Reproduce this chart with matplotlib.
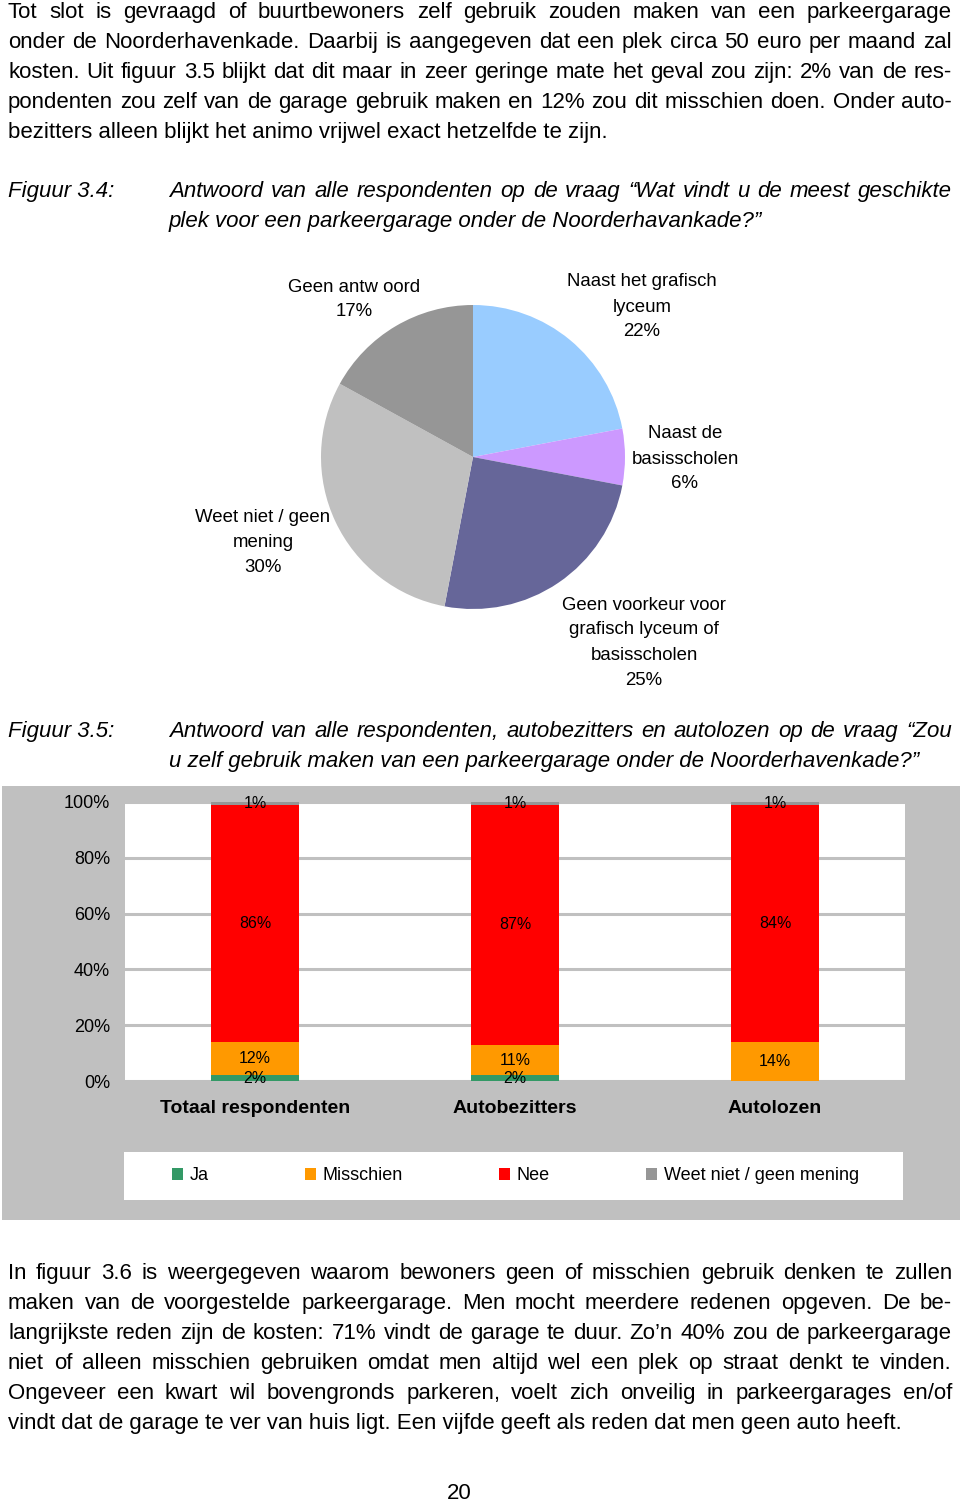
import matplotlib
matplotlib.use("Agg")
import matplotlib.pyplot as plt
from matplotlib.patches import Rectangle, Patch

plt.rcParams['font.family'] = ['Liberation Sans', 'DejaVu Sans']

# --- text of the page ---
para1 = [
    "Tot slot is gevraagd of buurtbewoners zelf gebruik zouden maken van een parkeergarage",
    "onder de Noorderhavenkade. Daarbij is aangegeven dat een plek circa 50 euro per maand zal",
    "kosten. Uit figuur 3.5 blijkt dat dit maar in zeer geringe mate het geval zou zijn: 2% van de res-",
    "pondenten zou zelf van de garage gebruik maken en 12% zou dit misschien doen. Onder auto-",
    "bezitters alleen blijkt het animo vrijwel exact hetzelfde te zijn.",
]
caption34 = [
    "Antwoord van alle respondenten op de vraag \u201cWat vindt u de meest geschikte",
    "plek voor een parkeergarage onder de Noorderhavankade?\u201d",
]
caption35 = [
    "Antwoord van alle respondenten, autobezitters en autolozen op de vraag \u201cZou",
    "u zelf gebruik maken van een parkeergarage onder de Noorderhavenkade?\u201d",
]
para2 = [
    "In figuur 3.6 is weergegeven waarom bewoners geen of misschien gebruik denken te zullen",
    "maken van de voorgestelde parkeergarage. Men mocht meerdere redenen opgeven. De be-",
    "langrijkste reden zijn de kosten: 71% vindt de garage te duur. Zo\u2019n 40% zou de parkeergarage",
    "niet of alleen misschien gebruiken omdat men altijd wel een plek op straat denkt te vinden.",
    "Ongeveer een kwart wil bovengronds parkeren, voelt zich onveilig in parkeergarages en/of",
    "vindt dat de garage te ver van huis ligt. Een vijfde geeft als reden dat men geen auto heeft.",
]

# --- figure 3.4 (pie) ---
pie_labels = ["Naast het grafisch\nlyceum", "Naast de\nbasisscholen",
              "Geen voorkeur voor\ngrafisch lyceum of\nbasisscholen",
              "Weet niet / geen\nmening", "Geen antw oord"]
pie_values = [22, 6, 25, 30, 17]
pie_colors = ["#99CCFF", "#CC99FF", "#666699", "#C0C0C0", "#969696"]

# --- figure 3.5 (stacked bars) ---
groups = ["Totaal respondenten", "Autobezitters", "Autolozen"]
answers = ["Ja", "Misschien", "Nee", "Weet niet / geen mening"]
ja = [2, 2, 0]
misschien = [12, 11, 14]
nee = [86, 87, 84]
weet_niet = [1, 1, 1]
bar_colors = ["#339966", "#FF9900", "#FF0000", "#969696"]

W, H = 960, 1502
fig = plt.figure(figsize=(W / 100, H / 100), dpi=100)
renderer = fig.canvas.get_renderer()


def fx(px):
    return px / W


def fy(py):
    return 1 - py / H


def write_par(lines, x0, x1, base0, step=30, last_left=True, **kw):
    for i, line in enumerate(lines):
        base = base0 + i * step
        if last_left and i == len(lines) - 1:
            fig.text(fx(x0), fy(base), line, va='baseline', ha='left', **kw)
            continue
        words = line.split()
        items = [fig.text(0, fy(base), w, va='baseline', ha='left', **kw) for w in words]
        widths = [t.get_window_extent(renderer).width for t in items]
        gap = (x1 - x0 - sum(widths)) / max(len(words) - 1, 1)
        x = x0
        for t, w in zip(items, widths):
            t.set_x(fx(x))
            x += w + gap


body = dict(fontsize=16, color='black')
ital = dict(fontsize=16, color='black', style='italic')

write_par(para1, 8, 952, 18, **body)
fig.text(fx(8), fy(197), "Figuur 3.4:", va='baseline', ha='left', **ital)
write_par(caption34, 169, 952, 197, **ital)
fig.text(fx(8), fy(737), "Figuur 3.5:", va='baseline', ha='left', **ital)
write_par(caption35, 169, 952, 737, **ital)
write_par(para2, 8, 952, 1279, **body)
fig.text(fx(459), fy(1499), "20", va='baseline', ha='center', **body)

# pie
cx, cy, r = 473, 457, 152
ax1 = fig.add_axes([fx(cx - r), fy(cy + r), 2 * r / W, 2 * r / H])
ax1.pie(pie_values, colors=pie_colors, startangle=90, counterclock=False, radius=1,
        wedgeprops=dict(linewidth=0))
ax1.set_xlim(-1, 1)
ax1.set_ylim(-1, 1)
ax1.axis('off')

# label block positions: (center x, first line center y) in page pixels
label_pos = [(642, 280), (685, 432), (644, 603), (263, 516), (354, 285)]
for lab, v, (lx, ly) in zip(pie_labels, pie_values, label_pos):
    for j, ln in enumerate((lab + "\n%d%%" % v).split("\n")):
        fig.text(fx(lx), fy(ly + 6.5 + 25 * j), ln, ha='center', va='baseline',
                 fontsize=13.4, color='black')

# bar chart panel
fig.patches.append(Rectangle((fx(2), fy(1220)), fx(960) - fx(2), (1220 - 786) / H,
                             transform=fig.transFigure, facecolor='#C0C0C0',
                             edgecolor='none', zorder=-2))
fig.patches.append(Rectangle((fx(124), fy(1200)), fx(903) - fx(124), (1200 - 1152) / H,
                             transform=fig.transFigure, facecolor='white',
                             edgecolor='none', zorder=-1))

ax2 = fig.add_axes([fx(125), fy(1081), (905 - 125) / W, (1081 - 802) / H])
ax2.set_facecolor('white')
series = [ja, misschien, nee, weet_niet]
totals = [sum(s[i] for s in series) for i in range(len(groups))]
xs = list(range(len(groups)))
bottoms = [0.0] * len(groups)
for vals, col in zip(series, bar_colors):
    shares = [v / t * 100 for v, t in zip(vals, totals)]
    ax2.bar(xs, shares, 0.34, bottom=bottoms, color=col, linewidth=0, zorder=3)
    for x, v, s, b in zip(xs, vals, shares, bottoms):
        if v > 0:
            ax2.text(x, b + s / 2, "%d%%" % v, ha='center', va='center',
                     fontsize=11.5, color='black', zorder=4)
    bottoms = [b + s for b, s in zip(bottoms, shares)]

ax2.set_xlim(-0.5, len(groups) - 0.5)
ax2.set_ylim(0, 100)
ax2.set_yticks(range(0, 101, 20))
ax2.set_yticklabels(["%d%%" % t for t in range(0, 101, 20)], fontsize=13)
ax2.set_xticks(xs)
ax2.set_xticklabels(groups, fontsize=14, fontweight='bold')
ax2.tick_params(axis='y', length=0, pad=10.8)
ax2.tick_params(axis='x', length=0, pad=14)
ax2.yaxis.grid(True, color='#C0C0C0', linewidth=2.2, zorder=1)
ax2.set_axisbelow(True)
for sp in ax2.spines.values():
    sp.set_visible(False)

handles = [Patch(facecolor=c, edgecolor='none') for c in bar_colors]
fig.legend(handles, answers, loc='center', bbox_to_anchor=(fx(515.5), fy(1176)),
           ncol=4, frameon=False, fontsize=13, handlelength=0.6, handleheight=0.6,
           handletextpad=0.4, columnspacing=5.3)

fig.savefig("out.png", dpi=100, facecolor='white')
